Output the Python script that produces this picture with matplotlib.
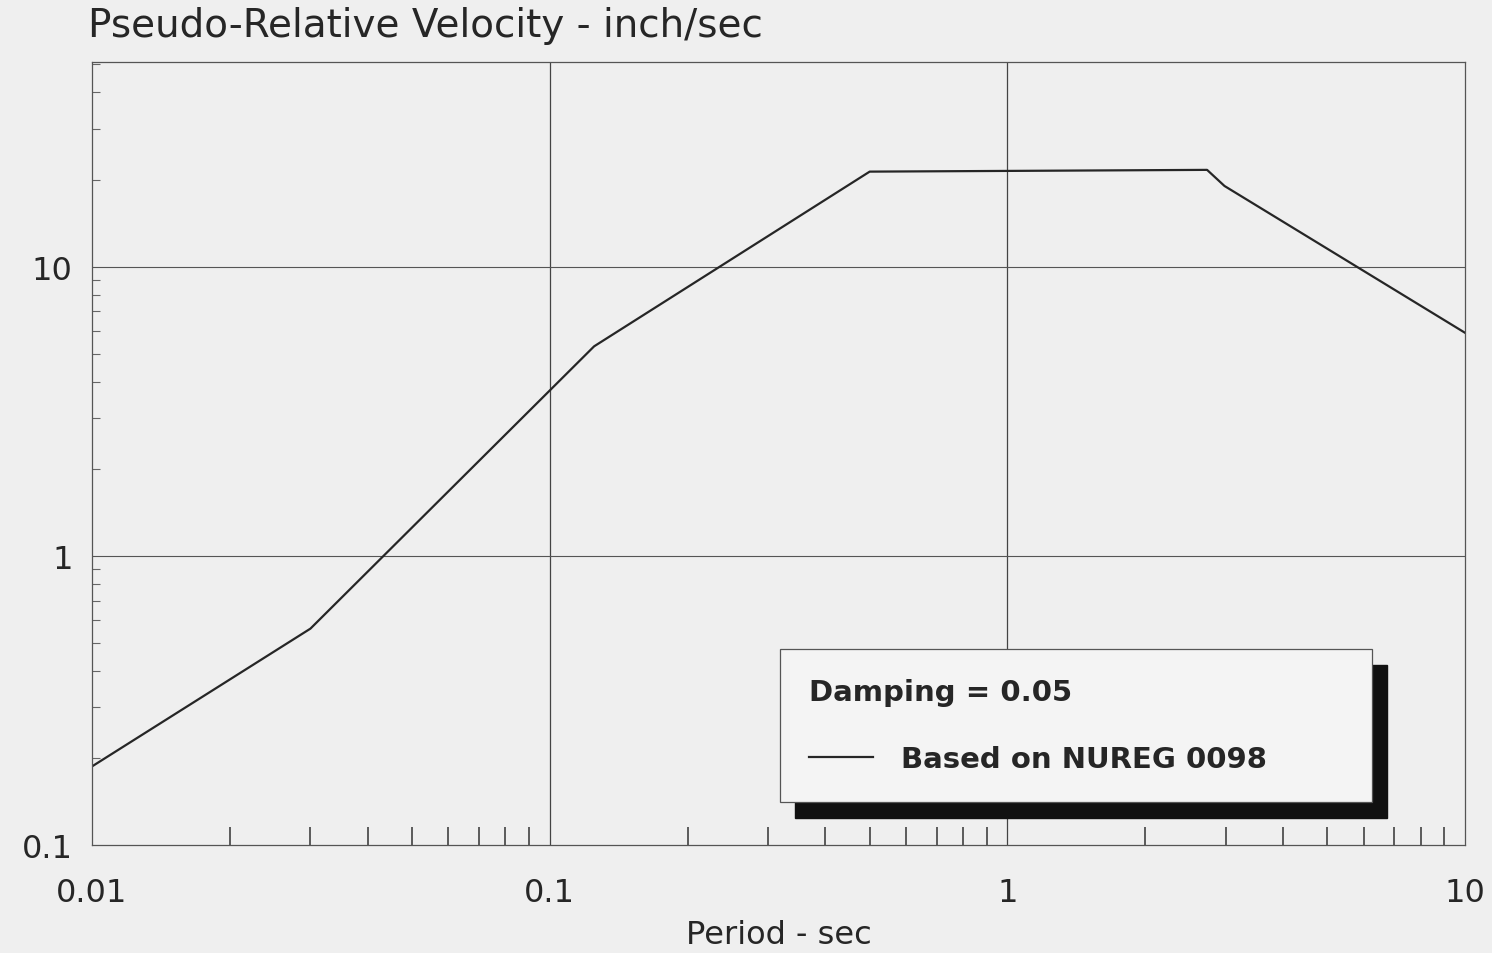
import matplotlib.pyplot as plt
from matplotlib.patches import Rectangle
from matplotlib.ticker import LogLocator, NullFormatter, FixedLocator, FixedFormatter

# spectrum corner points
period = [0.01, 0.03, 0.125, 0.5, 2.73, 2.98, 10.0]
velocity = [0.187, 0.56, 5.3, 21.3, 21.6, 19.0, 5.9]

x_ticks = [0.01, 0.1, 1, 10]
x_labels = ["0.01", "0.1", "1", "10"]
y_ticks = [0.1, 1, 10]
y_labels = ["0.1", "1", "10"]

plt.rcParams['font.family'] = ['DejaVu Sans']
ink = "#262626"

fig = plt.figure(figsize=(14.92, 9.54), dpi=100, facecolor="#efefef")
ax = fig.add_axes([0.0617, 0.1132, 0.9203, 0.8208])
ax.set_facecolor("#efefef")
ax.set_xscale("log")
ax.set_yscale("log")
ax.set_xlim(0.01, 10)
ax.set_ylim(0.1, 51)

line, = ax.plot(period, velocity, color=ink, lw=1.6, label="Based on NUREG 0098")

# major grid only at inner decades
for v in [0.1, 1]:
    ax.axvline(v, color="#444444", lw=0.9, zorder=1)
for v in [1, 10]:
    ax.axhline(v, color="#555555", lw=0.8, zorder=1)

ax.xaxis.set_major_locator(FixedLocator(x_ticks))
ax.xaxis.set_major_formatter(FixedFormatter(x_labels))
ax.yaxis.set_major_locator(FixedLocator(y_ticks))
ax.yaxis.set_major_formatter(FixedFormatter(y_labels))
ax.xaxis.set_minor_locator(LogLocator(base=10, subs=range(2, 10)))
ax.yaxis.set_minor_locator(LogLocator(base=10, subs=range(2, 10)))
ax.xaxis.set_minor_formatter(NullFormatter())
ax.yaxis.set_minor_formatter(NullFormatter())

ax.tick_params(axis="x", which="major", length=0, pad=23, labelsize=23, labelcolor=ink)
ax.tick_params(axis="y", which="major", length=0, pad=14, labelsize=23, labelcolor=ink)
ax.tick_params(axis="x", which="minor", direction="in", length=13, width=1.1, color="#333333")
ax.tick_params(axis="y", which="minor", direction="in", length=6, width=0.8, color="#666666")
for s in ax.spines.values():
    s.set_color("#555555")
    s.set_linewidth(0.9)

ax.set_xlabel("Period - sec", fontsize=23, color=ink, labelpad=8)
fig.text(0.059, 0.973, "Pseudo-Relative Velocity - inch/sec", fontsize=28,
         color=ink, ha="left", va="center")

leg = ax.legend(handles=[line], title="Damping = 0.05", loc="upper left",
                bbox_to_anchor=(0.501, 0.0485, 0.431, 0.2015), mode="expand",
                borderaxespad=0, alignment="left", fancybox=False, framealpha=1,
                edgecolor="#555555", facecolor="#f4f4f4",
                prop={"size": 21, "weight": "bold"}, title_fontproperties={"size": 21, "weight": "bold"},
                handlelength=2.2, handletextpad=0.95, borderpad=1.0, labelspacing=1.0)
leg.get_title().set_color(ink)
leg._legend_box.sep = 28
for t in leg.get_texts():
    t.set_color(ink)
leg.get_frame().set_linewidth(0.9)
leg.set_zorder(6)

fig.canvas.draw()
bb = leg.get_window_extent().transformed(fig.transFigure.inverted())
dx, dy = 15 / 1492, 16 / 954
shadow = Rectangle((bb.x0 + dx, bb.y0 - dy), bb.width, bb.height,
                   transform=fig.transFigure, color="#111111", zorder=5)
ax.add_artist(shadow)

fig.savefig("out.png", dpi=100, facecolor=fig.get_facecolor())
